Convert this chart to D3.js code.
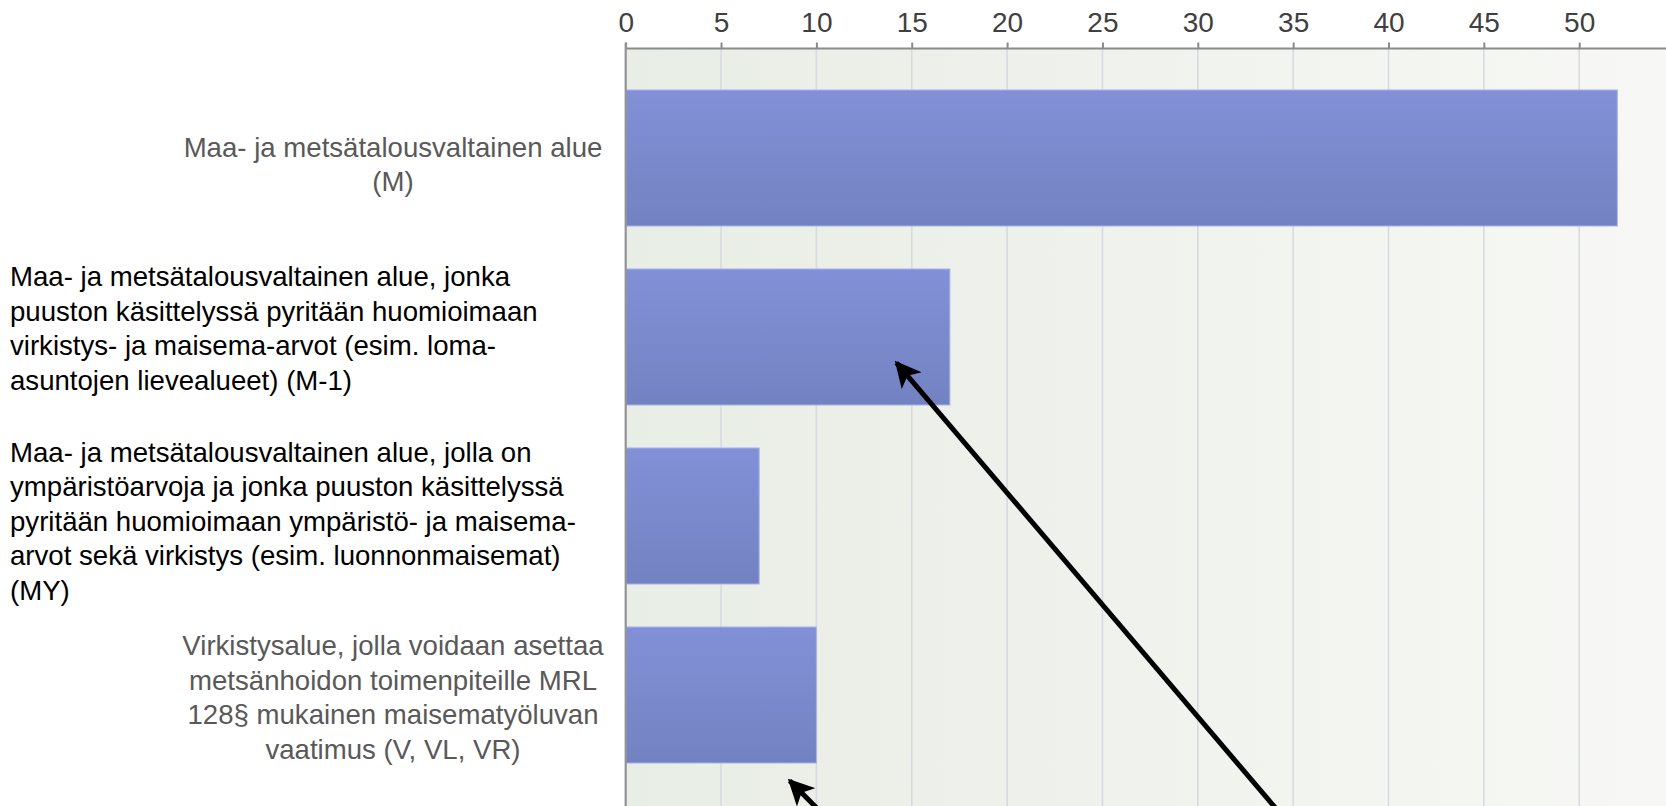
<!DOCTYPE html>
<html>
<head>
<meta charset="utf-8">
<script src="https://cdn.jsdelivr.net/npm/d3@7"></script>
<style>
  html, body { margin: 0; padding: 0; background: #ffffff; overflow: hidden; }
  svg { display: block; font-family: "Liberation Sans", Arial, sans-serif; }
</style>
</head>
<body>
<svg id="chart" width="1666" height="806"></svg>
<script>
// ---- data ----
const categories = ["M", "M-1", "MY", "V"];
const values = [52, 17, 7, 10];
const labelLines = [
  ["Maa- ja metsätalousvaltainen alue", "(M)"],
  ["Maa- ja metsätalousvaltainen alue, jonka", "puuston käsittelyssä pyritään huomioimaan", "virkistys- ja maisema-arvot (esim. loma-", "asuntojen lievealueet) (M-1)"],
  ["Maa- ja metsätalousvaltainen alue, jolla on", "ympäristöarvoja ja jonka puuston käsittelyssä", "pyritään huomioimaan ympäristö- ja maisema-", "arvot sekä virkistys (esim. luonnonmaisemat)", "(MY)"],
  ["Virkistysalue, jolla voidaan asettaa", "metsänhoidon toimenpiteille MRL", "128§ mukainen maisematyöluvan", "vaatimus (V, VL, VR)"]
];
const labelAlign = ["center", "left", "left", "center"];
const tickValues = [0, 5, 10, 15, 20, 25, 30, 35, 40, 45, 50];
// arrow annotations: tip (value, category, fraction of band) and tail outside view
const arrows = [
  { tipValue: 14.2, tipCat: "M-1", tipFrac: 0.69, tailValue: 37.6, tailCat: "V", tailFrac: 0.0, tailBelow: 260 },
  { tipValue: 8.6, tipCat: "V", tipFrac: 1.13, tailValue: 11.0, tailCat: "V", tailFrac: 0.0, tailBelow: 200 }
];

// ---- layout ----
const W = 1666, H = 806;
const axisY = 48.5;
const x0 = 625.7, pxPerUnit = 19.07;
const labelShift = [8, -7, 7, 4];
const svg = d3.select("#chart");

const x = d3.scaleLinear().domain([0, 55]).range([x0, x0 + 55 * pxPerUnit]);
const y = d3.scaleBand().domain(categories).range([68.5, 68.5 + 4 * 179])
  .paddingInner(0.24).paddingOuter(0.12);

const defs = svg.append("defs");
const bg = defs.append("linearGradient").attr("id", "bgGrad").attr("x1", "0").attr("x2", "1").attr("y1", "0").attr("y2", "0");
bg.append("stop").attr("offset", "0%").attr("stop-color", "#e8ede5");
bg.append("stop").attr("offset", "100%").attr("stop-color", "#f7f8f5");
const bar = defs.append("linearGradient").attr("id", "barGrad").attr("x1", "0").attr("x2", "0").attr("y1", "0").attr("y2", "1");
bar.append("stop").attr("offset", "0%").attr("stop-color", "#8291d7");
bar.append("stop").attr("offset", "100%").attr("stop-color", "#7282c1");
defs.append("marker").attr("id", "arrowHead").attr("viewBox", "0 0 10 10")
  .attr("refX", 9).attr("refY", 5).attr("markerWidth", 5.2).attr("markerHeight", 5.2)
  .attr("orient", "auto").attr("markerUnits", "strokeWidth")
  .append("path").attr("d", "M0,0 L10,5 L0,10 L2.5,5 Z").attr("fill", "#000");

// plot background
svg.append("rect").attr("x", x0).attr("y", axisY).attr("width", W - x0).attr("height", H - axisY)
  .attr("fill", "url(#bgGrad)");

// gridlines
svg.append("g").selectAll("line").data(tickValues.slice(1)).join("line")
  .attr("x1", d => x(d)).attr("x2", d => x(d)).attr("y1", axisY).attr("y2", H)
  .attr("stroke", "#d8dadd").attr("stroke-width", 1.6);

// bars
svg.append("g").selectAll("rect").data(values).join("rect")
  .attr("x", x(0)).attr("y", (d, i) => y(categories[i]))
  .attr("width", d => x(d) - x(0)).attr("height", y.bandwidth())
  .attr("fill", "url(#barGrad)")
  .attr("stroke", "#aab4ee").attr("stroke-width", 1);

// top axis
const axis = d3.axisTop(x).tickValues(tickValues).tickSize(6).tickPadding(10.5).tickFormat(d3.format("d"));
const gx = svg.append("g").attr("transform", `translate(0,${axisY})`).call(axis);
gx.select(".domain").remove();
gx.append("line").attr("x1", x0).attr("x2", W).attr("y1", 0).attr("y2", 0)
  .attr("stroke", "#8a8a8a").attr("stroke-width", 2.2);
gx.selectAll(".tick line").attr("stroke", "#8a8a8a").attr("stroke-width", 2);
gx.selectAll(".tick text").attr("fill", "#404040").attr("font-size", "28px")
  .attr("font-family", "'Liberation Sans', Arial, sans-serif");

// left axis line
svg.append("line").attr("x1", x0).attr("x2", x0).attr("y1", axisY - 6).attr("y2", H)
  .attr("stroke", "#939393").attr("stroke-width", 2.2);

// category labels
const lh = 34.5, fs = 27.6, capH = fs * 0.716;
const lab = svg.append("g").selectAll("text").data(categories).join("text")
  .attr("font-size", fs + "px")
  .attr("fill", (d, i) => labelAlign[i] === "center" ? "#595959" : "#000000")
  .attr("text-anchor", (d, i) => labelAlign[i] === "center" ? "middle" : "start")
  .attr("x", (d, i) => labelAlign[i] === "center" ? 393 : 10);
lab.each(function (d, i) {
  const lines = labelLines[i];
  const cy = y(d) + y.bandwidth() / 2;
  const first = cy - (lines.length - 1) / 2 * lh + capH / 2 - 2 + labelShift[i];
  const t = d3.select(this);
  lines.forEach((ln, k) => {
    t.append("tspan").attr("x", t.attr("x")).attr("y", first + k * lh).text(ln);
  });
});

// arrows (annotations)
svg.append("g").selectAll("line").data(arrows).join("line")
  .attr("x1", d => x(d.tailValue)).attr("y1", d => y(d.tailCat) + y.bandwidth() * d.tailFrac + d.tailBelow)
  .attr("x2", d => x(d.tipValue)).attr("y2", d => y(d.tipCat) + y.bandwidth() * d.tipFrac)
  .attr("stroke", "#000").attr("stroke-width", 5)
  .attr("marker-end", "url(#arrowHead)");
</script>
</body>
</html>
